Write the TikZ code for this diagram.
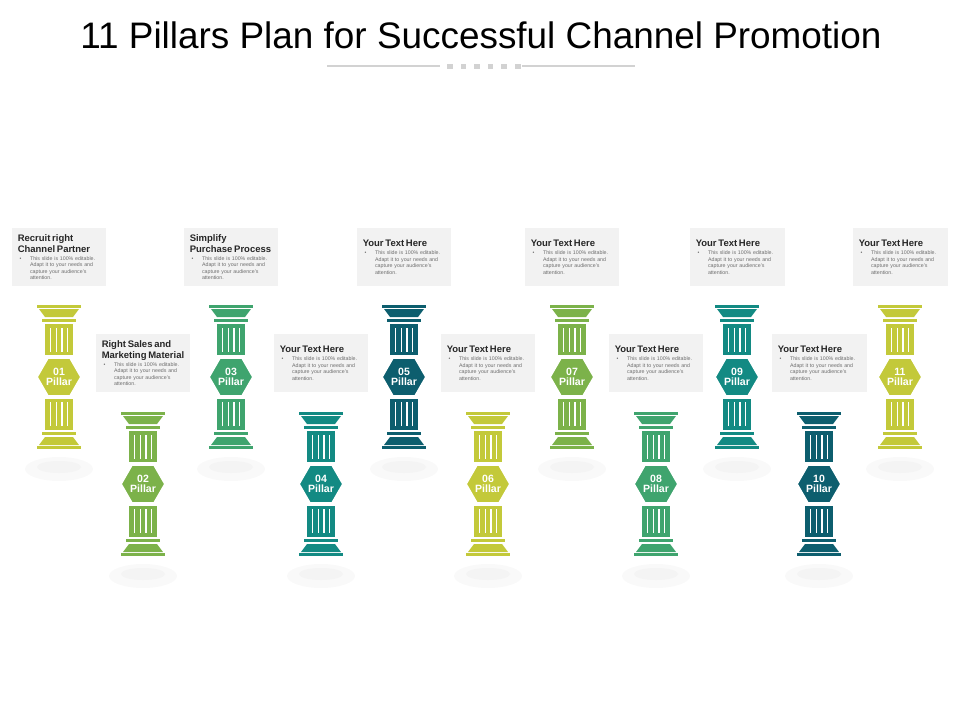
\documentclass[tikz,border=0pt]{standalone}
\usepackage{fontspec}
\setmainfont{Liberation Sans}
\usetikzlibrary{positioning}
\definecolor{lime}{RGB}{195,201,58}
\definecolor{leaf}{RGB}{124,178,74}
\definecolor{jade}{RGB}{63,164,110}
\definecolor{teal}{RGB}{19,138,131}
\definecolor{navy}{RGB}{13,94,110}
\definecolor{boxgray}{RGB}{242,242,242}
\definecolor{bodytext}{RGB}{110,110,110}
% one half of a pillar (#1 = -1 top, 1 bottom)
\newcommand{\pillarhalf}[1]{%
  \fill (-22,#1*72) rectangle (22,#1*69);
  \fill (-20,#1*68) -- (20,#1*68) -- (14,#1*60) -- (-14,#1*60) -- cycle;
  \fill (-17,#1*58) rectangle (17,#1*55);
  \fill (-14,#1*53) rectangle (14,#1*22);
  \foreach \g in {-8.4,-2.8,2.8,8.4}
    \fill[white] (\g-0.7,#1*49) rectangle (\g+0.7,#1*25);
}
\newcommand{\pillar}[5]{%
  \begin{scope}[shift={(#1,#2)}]
    \fill[gray!5] (0,92) ellipse (34 and 12);
    \fill[gray!9] (0,90) ellipse (22 and 6);
    \begin{scope}[fill=#3]
      \pillarhalf{-1}
      \pillarhalf{1}
    \end{scope}
    \filldraw[fill=#3, draw=white, line width=2pt]
      (-23,0) -- (-11.5,-20) -- (11.5,-20) -- (23,0) -- (11.5,20) -- (-11.5,20) -- cycle;
    \node[numtext] (p#4) at (0,0) {#4\\Pillar};
  \end{scope}
  \node[infobox] (b#4) at (#1,#5) {\textbf{\fontsize{5.4}{6.4}\selectfont\color{black!85}\pillartitle}\\[1pt]
    \hspace*{1pt}\makebox[6pt][l]{\textbullet}\parbox[t]{1.35cm}{\raggedright This slide is 100\% editable.  Adapt it to your needs and capture your audience's attention.}};
}
\tikzset{
  infobox/.style={anchor=north, fill=boxgray, text width=1.65cm, minimum width=1.9cm,
    minimum height=1.16cm, align=left, inner xsep=0.12cm, inner ysep=2pt,
    font=\fontsize{3}{3.7}\selectfont, text=bodytext},
  numtext/.style={text=white, font=\bfseries\fontsize{6}{6}\selectfont, align=center, inner sep=0pt},
  rulebar/.style={draw=gray!35, line width=1.2pt}
}
\begin{document}
\begin{tikzpicture}[x=0.02cm, y=-0.02cm]
\useasboundingbox (0,0) rectangle (960,720);
% Title
\node[font=\fontsize{21}{24}\selectfont] (title) at (481,35) {11 Pillars Plan for Successful Channel Promotion};
\draw[rulebar] (327,66) -- (440,66);
\draw[rulebar] (522,66) -- (635,66);
\foreach \s in {0,...,5}
  \fill[gray!35] (447+\s*13.6,64) rectangle (452.5+\s*13.6,68.5);
% Pillars
\def\pillartitle{\mbox{Recruit right}\\\mbox{Channel Partner}}
\pillar{59}{377}{lime}{01}{228}
\def\pillartitle{\mbox{Right Sales and}\\\mbox{Marketing Material}}
\pillar{143}{484}{leaf}{02}{334}
\def\pillartitle{\mbox{Simplify}\\\mbox{Purchase Process}}
\pillar{231}{377}{jade}{03}{228}
\def\pillartitle{\mbox{Your Text Here}}
\pillar{321}{484}{teal}{04}{334}
\pillar{404}{377}{navy}{05}{228}
\pillar{488}{484}{lime}{06}{334}
\pillar{572}{377}{leaf}{07}{228}
\pillar{656}{484}{jade}{08}{334}
\pillar{737}{377}{teal}{09}{228}
\pillar{819}{484}{navy}{10}{334}
\pillar{900}{377}{lime}{11}{228}
\end{tikzpicture}
\end{document}
